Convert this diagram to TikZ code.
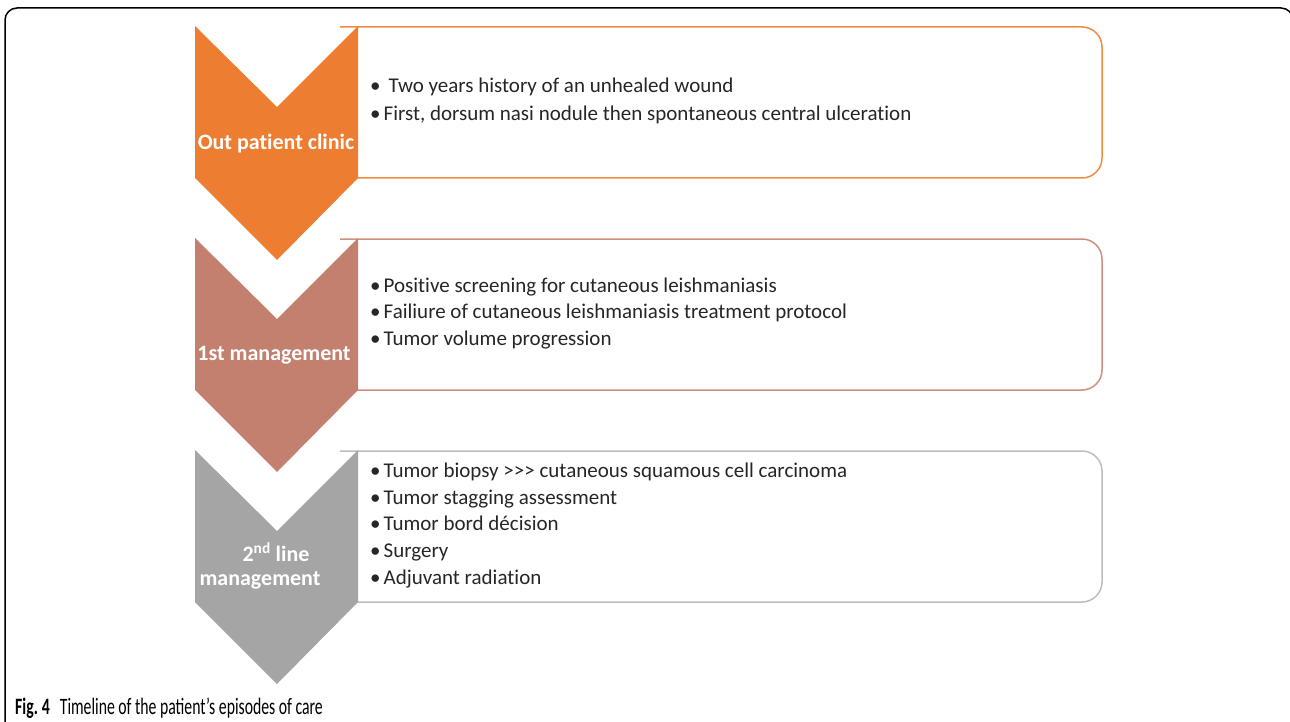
\documentclass[tikz,border=0pt]{standalone}
\usepackage{fontspec}
\setmainfont[Ligatures=NoCommon]{Carlito}
\newfontfamily\capfont[FakeStretch=0.67]{Carlito}
\definecolor{corange}{HTML}{ED7D31}
\definecolor{cbrown}{HTML}{C3806E}
\definecolor{cgrey}{HTML}{A5A5A5}
\definecolor{cbrownln}{HTML}{CF8F7E}
\definecolor{cgreyln}{HTML}{BDBDBD}
\definecolor{corangeln}{HTML}{F08A44}
\tikzset{
  infobox/.style={draw=#1, line width=1.5pt, rounded corners=20pt},
  lbl/.style={text=white, font=\fontsize{22}{26}\selectfont\bfseries, anchor=mid, inner sep=0pt, align=center},
  item/.style={anchor=mid west, inner sep=0pt, font=\fontsize{21}{24}\selectfont, text=black!85},
  frameline/.style={line width=1.5pt, rounded corners=12pt},
}
\begin{document}
\begin{tikzpicture}[x=1pt,y=-1pt]
\useasboundingbox (0,0) rectangle (1290,722);
\draw[frameline] (5,735) -- (5,8) -- (1293,8) -- (1293,735);

% boxes
\draw[infobox=corangeln] (340,27) -- (1102,27) -- (1102,178) -- (340,178);
\draw[infobox=cbrownln] (340,239) -- (1102,239) -- (1102,390) -- (340,390);
\draw[infobox=cgreyln] (340,451) -- (1102,451) -- (1102,602) -- (340,602);

% chevrons
\fill[corange] (195,26) -- (277,107) -- (358,26) -- (358,178) -- (277,260) -- (195,178) -- cycle;
\fill[cbrown] (195,238) -- (277,319) -- (358,238) -- (358,390) -- (277,472) -- (195,390) -- cycle;
\fill[cgrey] (195,450) -- (277,531) -- (358,450) -- (358,602) -- (277,684) -- (195,602) -- cycle;

% labels
\node[lbl] (l1) at (276,147) {Out patient clinic};
\node[lbl] (l2) at (274,358) {1st management};
\node[lbl] (l3a) at (276,559) {2\textsuperscript{nd} line};
\node[lbl] (l3b) at (260,583) {management};

% box 1
\node[item] (o1) at (370,90) {\textbullet\hspace{8pt}Two years history of an unhealed wound};
\node[item] (o2) at (370,118) {\textbullet\hspace{3pt}First, dorsum nasi nodule then spontaneous central ulceration};
% box 2
\node[item] (m1) at (370,290) {\textbullet\hspace{3pt}Positive screening for cutaneous leishmaniasis};
\node[item] (m2) at (370,316) {\textbullet\hspace{3pt}Failiure of cutaneous leishmaniasis treatment protocol};
\node[item] (m3) at (370,343) {\textbullet\hspace{3pt}Tumor volume progression};
% box 3
\node[item] (s1) at (370,475.5) {\textbullet\hspace{3pt}Tumor biopsy >{}>{}> cutaneous squamous cell carcinoma};
\node[item] (s2) at (370,502.5) {\textbullet\hspace{3pt}Tumor stagging assessment};
\node[item] (s3) at (370,528.5) {\textbullet\hspace{3pt}Tumor bord décision};
\node[item] (s4) at (370,555.5) {\textbullet\hspace{3pt}Surgery};
\node[item] (s5) at (370,582.5) {\textbullet\hspace{3pt}Adjuvant radiation};

% caption
\node[anchor=base west, inner sep=0pt, font=\capfont\fontsize{23.5}{27}\selectfont] (cap) at (15,714) {\textbf{Fig.\,4}\hspace{10pt}Timeline of the patient’s episodes of care};
\end{tikzpicture}
\end{document}
